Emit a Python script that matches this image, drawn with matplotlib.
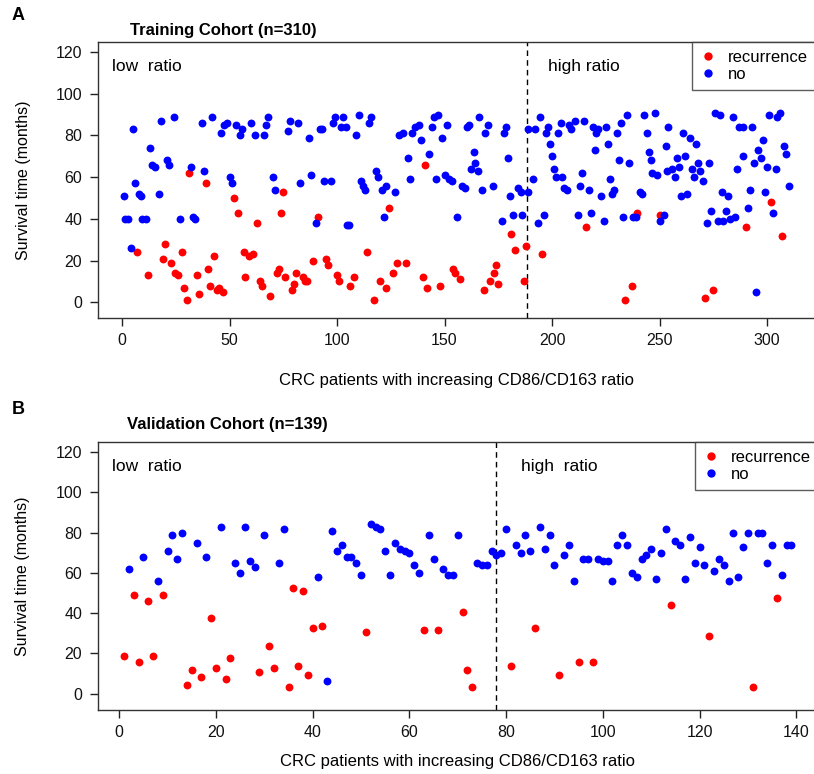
import matplotlib
matplotlib.use("Agg")
import matplotlib.pyplot as plt
from matplotlib.lines import Line2D

plt.rcParams['font.family'] = ['Liberation Sans', 'DejaVu Sans']

# ---------------- Panel A: Training cohort ----------------
train_no_x = [5, 18, 24, 37, 42, 47.5, 49, 46, 53, 56, 55, 13, 14, 15.5, 21, 22, 32, 38, 50, 51, 6, 1, 8, 9, 17,
              1.5, 3, 9.5, 11, 27, 33, 34, 4,
              60, 62, 66, 67, 68, 77, 78, 82, 87, 92, 93, 98, 99, 103, 102, 104, 110, 116, 115, 109, 70, 71, 83, 88,
              94, 97, 111, 112, 113, 118, 119, 121, 123, 122, 90, 104.5, 105.5,
              127, 129, 130.6, 135, 136.5, 138, 139, 144, 145, 147, 149, 151, 160.5, 161.3, 166, 170, 169, 178.4,
              177.5, 133, 143, 134, 146, 150, 152, 153.6, 158, 159.5, 163.5, 164.4, 162.4, 165.5, 167.5, 172.5,
              179.5, 180.4, 184, 185.5, 189, 156, 176.5, 182, 186, 189,
              191, 192, 194.6, 193.6, 196.4, 197, 198, 199, 200, 201, 201.7, 204.8, 203, 204, 205.7, 207, 208, 209,
              210.7, 215, 212, 213, 214, 217, 218, 219, 220.6, 221.6, 220, 223, 224, 225, 226, 227, 228, 229, 230,
              232, 231, 233, 235, 236, 237.7, 239, 240.8, 242, 243, 244, 245, 246, 246.7, 249, 248, 250, 252, 253,
              254, 253.7,
              261, 264, 267, 258, 262, 255.7, 259, 257, 265, 266, 268, 269, 270, 273, 260, 263, 275.7, 278, 284,
              287, 288.6, 293, 298, 301, 304.7, 306, 296, 297, 308, 309, 289, 294, 286, 300, 304, 310, 279, 282,
              292, 299, 274, 281, 291, 303, 272, 277, 279.6, 282.7, 285, 295]
train_no_y = [83, 87, 89, 86, 89, 85, 86, 81, 85, 83, 80, 74, 66, 65, 68, 66, 65, 63, 60, 57, 57, 51, 52, 51, 52,
              40, 40, 40, 40, 40, 41, 40, 26,
              86, 80, 80, 85, 89, 82, 87, 86, 79, 83, 83, 86, 89, 89, 84, 84, 90, 89, 86, 80, 60, 54, 57, 61,
              58, 58, 58, 56, 54, 63, 60, 54, 56, 41, 38, 37, 37,
              53, 80, 81, 81, 84, 85, 78, 84, 89, 90, 79, 85, 84, 85, 89, 85, 81, 84,
              81, 69, 71, 59, 59, 61, 59, 58, 56, 55, 72, 67, 64, 63, 54, 56,
              69, 51, 55, 53, 53, 41, 39, 42, 42, 83,
              59, 83, 89, 38, 42, 81, 84, 76, 70, 64, 60, 60, 81, 86, 55, 54, 85, 83,
              87, 87, 42, 56, 62, 54, 43, 84, 81, 83, 73, 51, 39, 84, 76, 59, 52, 54, 81,
              86, 68, 41, 90, 67, 41, 41, 53, 52, 90, 81, 72, 68, 62, 61, 91, 39, 42, 75,
              84, 63,
              81, 79, 76, 69, 70, 64, 65, 60, 64, 60, 67, 63, 58, 67, 51, 52, 91, 90, 89,
              84, 84, 84, 78, 90, 89, 91, 73, 69, 75, 71, 70, 67, 64, 65, 64, 56, 53, 51,
              54, 53, 44, 44, 45, 43, 38, 39, 39, 40, 41, 5]

train_rec_x = [31, 39, 52, 54, 7, 20, 19, 23, 28, 43, 12, 24.7, 26, 35, 40, 29, 36, 30, 41, 44, 45, 47, 56.7, 57,
               75, 74, 63, 91, 124, 59, 61, 64, 65, 69, 72, 73, 76, 79, 80, 81, 84, 85, 86, 89, 95, 96, 100, 101,
               106, 108, 114, 117, 120, 123,
               141, 128, 132, 126, 140, 142, 148, 154, 155, 157, 168.5, 171, 173, 174, 175, 181, 183, 188, 187,
               195.5, 216, 239.7, 250, 237, 234,
               302, 290, 307, 275, 271]
train_rec_y = [62, 57, 50, 43, 24, 28, 21, 19, 24, 22, 13, 14, 13, 13, 16, 7, 4, 1, 8, 6, 7, 5, 24, 12,
               53, 43, 38, 41, 45, 22, 23, 10, 8, 3, 14, 16, 12, 6, 9, 14, 12, 10, 10, 20, 21, 18, 13, 10,
               8, 12, 24, 1, 10, 7,
               66, 19, 19, 14, 12, 7, 8, 16, 14, 11, 6, 10, 14, 18, 9, 33, 25, 27, 10,
               23, 36, 43, 42, 8, 1,
               48, 36, 32, 6, 2]

# ---------------- Panel B: Validation cohort ----------------
val_no_x = [2, 5, 8, 10, 11, 12, 13, 16, 18, 21, 24, 25, 26, 27, 28, 30, 33, 34, 41, 43, 44, 45, 46, 47, 48, 49,
            50, 52, 53, 54, 55, 56, 57, 58, 59, 60, 61, 62, 64, 65, 67, 68, 69, 70, 74, 75, 76, 77, 78, 79, 80,
            82, 83, 84, 85, 87, 88, 89, 90, 92, 93, 94, 96, 97, 99, 100, 101, 102, 103, 104, 105, 106, 107, 108,
            109, 110, 111, 112, 113, 115, 116, 117, 118, 119, 120, 121, 123, 124, 125, 126, 127, 128, 129, 130,
            132, 133, 134, 135, 137, 138, 139]
val_no_y = [62, 68, 56, 71, 79, 67, 80, 75, 68, 83, 65, 60, 83, 66, 63, 79, 65, 82, 58, 6, 81, 71, 74, 68, 68, 65,
            59, 84, 83, 82, 71, 59, 75, 72, 71, 70, 64, 60, 79, 67, 62, 59, 59, 79, 65, 64, 64, 71, 69, 70, 82,
            74, 70, 79, 71, 83, 72, 79, 64, 69, 74, 56, 67, 67, 67, 66, 66, 56, 74, 79, 74, 60, 58, 67,
            69, 72, 57, 70, 82, 76, 74, 57, 78, 65, 73, 64, 61, 67, 64, 56, 80, 58, 73, 80,
            80, 80, 65, 74, 59, 74, 74]

val_rec_x = [1, 3, 4, 6, 7, 9, 14, 15, 17, 19, 20, 22, 23, 29, 31, 32, 35, 36, 37, 38, 39, 40, 42, 51, 63, 66,
             71, 72, 73, 81, 86, 91, 95, 98, 114, 122, 131, 136]
val_rec_y = [18.5, 49, 15.5, 46, 18.5, 49, 4, 11.5, 8, 37.5, 12.5, 7, 17.5, 10.5, 23.5, 12.5, 3, 52.5, 13.5, 51,
             9, 32.5, 33.5, 30.5, 31.5, 31.5, 40.5, 11.5, 3, 13.5, 32.5, 9, 15.5, 15.5, 44, 28.5, 3, 47.5]

yticks = [0, 20, 40, 60, 80, 100, 120]
xticks_a = [0, 50, 100, 150, 200, 250, 300]
xticks_b = [0, 20, 40, 60, 80, 100, 120, 140]

RED = "#FF0000"
BLUE = "#0000FF"
W, H = 814, 774

fig = plt.figure(figsize=(W / 100, H / 100), dpi=100)


def make_panel(rect, no_x, no_y, rec_x, rec_y, xlim, ylim, xticks, cut, title, letter, title_xy, letter_xy,
               low_xy, high_xy, high_txt, xlab_y, ylab_x):
    ax = fig.add_axes(rect)
    ax.scatter(rec_x, rec_y, s=32, color=RED, linewidths=0, zorder=3)
    ax.scatter(no_x, no_y, s=32, color=BLUE, linewidths=0, zorder=3)
    ax.axvline(cut, color="black", lw=1.0, ls=(0, (4, 3)), zorder=2)
    ax.set_xlim(*xlim)
    ax.set_ylim(*ylim)
    ax.set_xticks(xticks)
    ax.set_yticks(yticks)
    ax.tick_params(axis="both", direction="out", length=6, width=1, labelsize=11.5, pad=5,
                   colors="#222222", labelcolor="#111111")
    for sp in ax.spines.values():
        sp.set_linewidth(1.0)
        sp.set_color("#333333")
    ax.set_ylabel("Survival time (months)", fontsize=11.5)
    ax.yaxis.set_label_coords(ylab_x, 0.5)
    ax.set_xlabel("CRC patients with increasing CD86/CD163 ratio", fontsize=12)
    ax.xaxis.set_label_coords(0.5, xlab_y)
    ax.text(low_xy[0], low_xy[1], "low  ratio", fontsize=12.5, va="center", ha="left")
    ax.text(high_xy[0], high_xy[1], high_txt, fontsize=12.5, va="center", ha="left")
    handles = [Line2D([], [], ls="none", marker="o", markersize=6, color=RED, markeredgewidth=0),
               Line2D([], [], ls="none", marker="o", markersize=6, color=BLUE, markeredgewidth=0)]
    leg = ax.legend(handles, ["recurrence", "no"], loc="upper right", fontsize=12, frameon=True,
                    fancybox=False, borderaxespad=0, handlelength=1.0, handletextpad=0.7,
                    borderpad=0.45, labelspacing=0.15)
    leg.get_frame().set_edgecolor("#333333")
    leg.get_frame().set_linewidth(1.0)
    fig.text(title_xy[0] / W, 1 - title_xy[1] / H, title, fontsize=12, fontweight="bold",
             ha="left", va="center")
    fig.text(letter_xy[0] / W, 1 - letter_xy[1] / H, letter, fontsize=13, fontweight="bold",
             ha="left", va="center")
    return ax


make_panel([97.5 / W, 1 - 318 / H, (815.2 - 97.5) / W, (318 - 42) / H],
           train_no_x, train_no_y, train_rec_x, train_rec_y,
           (-11.4, 322.4), (-7.5, 124.8), xticks_a, 188.5,
           "Training Cohort (n=310)", "A", (130, 30), (12, 16),
           (-4.7, 113), (198, 113), "high ratio", -0.2, -0.093)

make_panel([97.5 / W, 1 - 710 / H, (818 - 97.5) / W, (710 - 442) / H],
           val_no_x, val_no_y, val_rec_x, val_rec_y,
           (-4.5, 144.5), (-8.2, 125.0), xticks_b, 78,
           "Validation Cohort (n=139)", "B", (127, 424), (12, 410),
           (-1.5, 112.7), (83, 112.7), "high  ratio", -0.165, -0.093)

fig.savefig("out.png", dpi=100)
